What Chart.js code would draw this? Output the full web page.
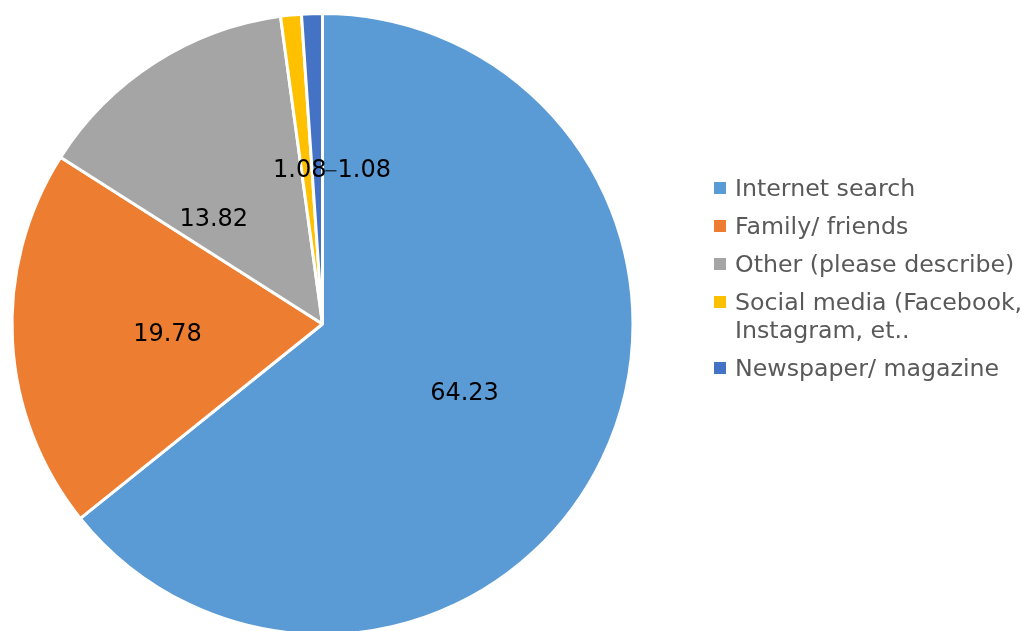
<!DOCTYPE html>
<html>
<head>
<meta charset="utf-8">
<script src="https://cdn.jsdelivr.net/npm/chart.js@4/dist/chart.umd.min.js"></script>
<style>
  html, body { margin: 0; padding: 0; background: #fff; }
  #wrap { position: relative; width: 1024px; height: 631px; overflow: hidden; }
  #c { position: absolute; left: 0; top: 0; }
  #legend { position: absolute; left: 713px; top: 174px; font-family: "DejaVu Sans", sans-serif; font-size: 23.7px; color: #595959; }
  .item { position: relative; padding-left: 22px; line-height: 28px; margin-bottom: 10px; white-space: nowrap; }
  .sw { position: absolute; left: 1px; top: 8px; width: 12px; height: 12px; }
</style>
</head>
<body>
<div id="wrap">
  <canvas id="c" width="1024" height="631"></canvas>
  <div id="legend"></div>
</div>
<script>
const categories = ["Internet search", "Family/ friends", "Other (please describe)", "Social media (Facebook, Instagram, et..", "Newspaper/ magazine"];
const legendLines = [["Internet search"], ["Family/ friends"], ["Other (please describe)"], ["Social media (Facebook,", "Instagram, et.."], ["Newspaper/ magazine"]];
const values = [64.23, 19.78, 13.82, 1.08, 1.08];
const colors = ["#5B9BD5", "#ED7D31", "#A5A5A5", "#FFC000", "#4472C4"];
// label nudges (style only, pixels)
const labelNudge = [[2, 3], [0, 2], [-25, 26], [-7, 1], [47, 2]];
const leaderFor = [false, false, false, false, true];

const labelPlugin = {
  id: 'sliceLabels',
  afterDatasetsDraw(chart) {
    const ctx = chart.ctx;
    const meta = chart.getDatasetMeta(0);
    ctx.save();
    ctx.font = '24px "DejaVu Sans", sans-serif';
    ctx.fillStyle = '#000';
    ctx.textAlign = 'center';
    ctx.textBaseline = 'middle';
    meta.data.forEach((arc, i) => {
      const p = arc.getProps(['x', 'y', 'startAngle', 'endAngle', 'outerRadius'], true);
      const mid = (p.startAngle + p.endAngle) / 2;
      const r = p.outerRadius * 0.5;
      const nx = p.x + Math.cos(mid) * r;
      const ny = p.y + Math.sin(mid) * r;
      const lx = nx + labelNudge[i][0];
      const ly = ny + labelNudge[i][1];
      const txt = values[i].toFixed(2);
      ctx.fillText(txt, lx, ly);
      if (leaderFor[i]) {
        const w = ctx.measureText(txt).width;
        ctx.strokeStyle = '#000';
        ctx.lineWidth = 1;
        ctx.beginPath();
        ctx.moveTo(lx - w / 2 - 1, ly);
        ctx.lineTo(nx + 8, ly);
        ctx.stroke();
      }
    });
    ctx.restore();
  }
};

new Chart(document.getElementById('c'), {
  type: 'pie',
  data: {
    labels: categories,
    datasets: [{
      data: values,
      backgroundColor: colors,
      borderColor: '#ffffff',
      borderWidth: 3,
      clip: false
    }]
  },
  options: {
    responsive: false,
    animation: false,
    radius: 310.5,
    layout: { padding: { left: 0, right: 379, top: 17, bottom: 0 } },
    plugins: { legend: { display: false }, tooltip: { enabled: false } }
  },
  plugins: [labelPlugin]
});

const lg = document.getElementById('legend');
legendLines.forEach((lines, i) => {
  const d = document.createElement('div');
  d.className = 'item';
  const s = document.createElement('span');
  s.className = 'sw';
  s.style.background = colors[i];
  d.appendChild(s);
  lines.forEach((t, j) => {
    if (j > 0) d.appendChild(document.createElement('br'));
    d.appendChild(document.createTextNode(t));
  });
  lg.appendChild(d);
});
</script>
</body>
</html>
